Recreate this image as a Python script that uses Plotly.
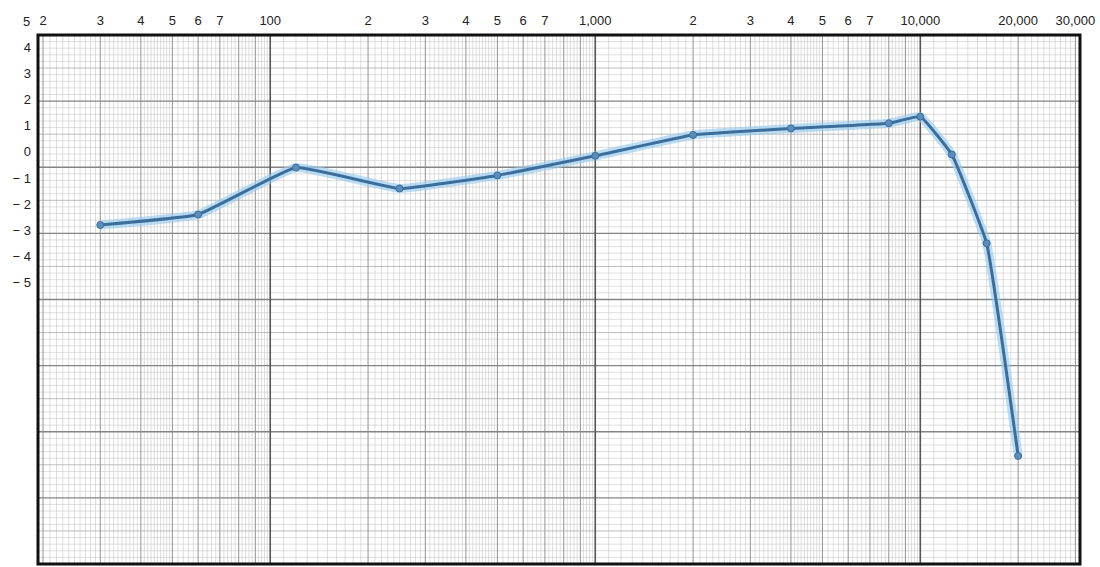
import math
import plotly.graph_objects as go

# ---- data ----
freq_hz = [30, 60, 120, 250, 500, 1000, 2000, 4000, 8000, 10000, 12500, 16000, 20000]
level_db = [-2.8, -2.4, -0.6, -1.4, -0.9, -0.15, 0.65, 0.9, 1.1, 1.35, -0.1, -3.5, -11.65]

x_tick_vals = [20, 30, 40, 50, 60, 70, 100, 200, 300, 400, 500, 600, 700,
               1000, 2000, 3000, 4000, 5000, 6000, 7000, 10000, 20000, 30000]
x_tick_text = ["2", "3", "4", "5", "6", "7", "100", "2", "3", "4", "5", "6", "7",
               "1,000", "2", "3", "4", "5", "6", "7", "10,000", "20,000", "30,000"]
y_tick_vals = [5, 4, 3, 2, 1, 0, -1, -2, -3, -4, -5]
y_tick_text = ["5", "4", "3", "2", "1", "0", "− 1", "− 2", "− 3", "− 4", "− 5"]

# ---- axis extents ----
X_MIN, X_MAX = 19.3, 31000
Y_MIN, Y_MAX = -15.79, 4.48

fig = go.Figure()

# ---- graph-paper grid (built from loops) ----
def vlines(values):
    xs, ys = [], []
    for v in values:
        xs += [v, v, None]
        ys += [Y_MIN, Y_MAX, None]
    return xs, ys

def hlines(values):
    xs, ys = [], []
    for v in values:
        xs += [X_MIN, X_MAX, None]
        ys += [v, v, None]
    return xs, ys

fine, integer, decade = [], [], []
for k in range(1, 5):
    base = 10 ** k
    decade.append(base)
    for m in range(2, 10):
        integer.append(m * base)
    steps = []
    a = 1.0
    while a < 10 - 1e-9:
        step = 0.1 if a < 5 - 1e-9 else 0.2
        a = round(a + step, 3)
        steps.append(a)
    for s in steps:
        if abs(s - round(s)) > 1e-6:
            fine.append(s * base)
fine = [v for v in fine if X_MIN <= v <= X_MAX]
integer = [v for v in integer if X_MIN <= v <= X_MAX]
decade = [v for v in decade if X_MIN <= v <= X_MAX]

span = Y_MAX - Y_MIN
h_major = [Y_MIN + i * span / 8 for i in range(1, 8)]
h_mid = [Y_MIN + (i + 0.5) * span / 8 for i in range(8)]
h_minor = [Y_MIN + i * span / 80 for i in range(1, 80) if i % 5 != 0]

grid_specs = [
    (vlines(fine), "#c8c8c8", 0.6),
    (hlines(h_minor), "#cacaca", 0.6),
    (hlines(h_mid), "#acacac", 0.8),
    (vlines(integer), "#939393", 1.0),
    (hlines(h_major), "#848484", 1.3),
    (vlines(decade), "#555555", 1.6),
]
for (gx, gy), col, w in grid_specs:
    fig.add_trace(go.Scatter(x=gx, y=gy, mode="lines",
                             line=dict(color=col, width=w),
                             hoverinfo="skip", showlegend=False))

# ---- response curve ----
fig.add_trace(go.Scatter(x=freq_hz, y=level_db, mode="lines",
                         line=dict(color="rgba(150,205,240,0.65)", width=9,
                                   shape="spline", smoothing=0.3),
                         hoverinfo="skip", showlegend=False))
fig.add_trace(go.Scatter(x=freq_hz, y=level_db, mode="lines+markers",
                         line=dict(color="#3c6d9b", width=3,
                                   shape="spline", smoothing=0.3),
                         marker=dict(color="#5a8dbb", size=7, symbol="circle",
                                     line=dict(color="#3c6d9b", width=1)),
                         showlegend=False))

tick_font = dict(family="Liberation Sans, Arial", size=13, color="#222")

fig.update_xaxes(type="log", range=[math.log10(X_MIN), math.log10(X_MAX)],
                 side="top", showgrid=False, zeroline=False, automargin=False,
                 tickmode="array", tickvals=x_tick_vals, ticktext=x_tick_text,
                 ticks="", ticklabelstandoff=6, tickfont=tick_font)
fig.update_yaxes(range=[Y_MIN, Y_MAX], showgrid=False, zeroline=False, automargin=False,
                 tickmode="array", tickvals=y_tick_vals, ticktext=y_tick_text,
                 ticks="", ticklabelstandoff=6, tickfont=tick_font)

# labels for ticks lying above the framed area
for v, t in zip(y_tick_vals, y_tick_text):
    if v > Y_MAX:
        fig.add_annotation(xref="paper", yref="paper", x=0, y=(v - Y_MIN) / span,
                           text=t, showarrow=False, xanchor="right", yanchor="middle",
                           xshift=-6, font=tick_font)

fig.add_shape(type="rect", xref="paper", yref="paper", x0=0, y0=0, x1=1, y1=1,
              line=dict(color="#111", width=3), fillcolor="rgba(0,0,0,0)")

fig.update_layout(width=1100, height=567,
                  margin=dict(l=38, r=20, t=35, b=3),
                  plot_bgcolor="white", paper_bgcolor="white")

# remove the browser's default page margin so the figure fills the window exactly
fig.write_html("out.html",
               config={"displayModeBar": False},
               post_script="document.body.style.margin='0';document.body.style.overflow='hidden';")
